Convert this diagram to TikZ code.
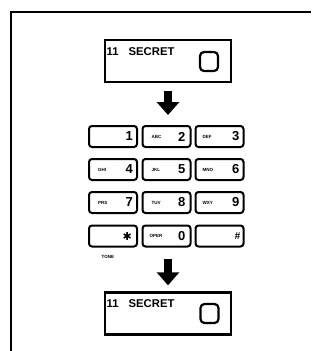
\documentclass[tikz,border=0pt]{standalone}
\usepackage{fontspec}
\setmainfont{Liberation Sans}
\usetikzlibrary{arrows.meta}
\tikzset{
  display/.style={draw, line width=2.4pt, minimum width=126pt, minimum height=42pt, inner sep=0pt},
  lamp/.style={draw, line width=2.2pt, rounded corners=4pt, minimum width=18pt, minimum height=19pt, inner sep=0pt},
  keybox/.style={draw, line width=2pt, rounded corners=3pt, minimum width=48pt, minimum height=21pt, inner sep=0pt},
  digit/.style={anchor=east, font=\bfseries\fontsize{13}{13}\selectfont, inner sep=0pt},
  tiny/.style={anchor=west, font=\bfseries\fontsize{4.5}{4.5}\selectfont, inner sep=0pt},
  title/.style={anchor=base west, font=\bfseries\fontsize{11.3}{11.3}\selectfont, inner sep=0pt},
  bigarrow/.style={line width=8pt, -{Triangle[width=22pt,length=13pt]}},
  frameline/.style={line width=1.5pt}
}
\begin{document}
\begin{tikzpicture}[x=1pt,y=-1pt]
\useasboundingbox (0,0) rectangle (325,351);
% frame
\coordinate (fa) at (11,351);
\coordinate (fb) at (11,12);
\coordinate (fc) at (311,12);
\draw[frameline] (fa) -- (fb) -- (fc);
% top display
\node[display] (topbox) at (168,61) {};
\node[lamp] (toplamp) at (209,61.5) {};
\node[title] (toptext) at (106.5,55) {11\hspace{10pt}SECRET};
% keys
\node[keybox] (k1) at (113,136.5) {};
\node[keybox] (k2) at (166.5,136.5) {};
\node[keybox] (k3) at (219.5,136.5) {};
\node[keybox] (k4) at (113,169.5) {};
\node[keybox] (k5) at (166.5,169.5) {};
\node[keybox] (k6) at (219.5,169.5) {};
\node[keybox] (k7) at (113,202.5) {};
\node[keybox] (k8) at (166.5,202.5) {};
\node[keybox] (k9) at (219.5,202.5) {};
\node[keybox] (ks) at (113,236) {};
\node[keybox] (k0) at (166.5,236) {};
\node[keybox] (kh) at (219.5,236) {};
% digits
\node[digit] (d1) at ([xshift=-5pt]k1.east) {1};
\node[digit] (d2) at ([xshift=-6pt]k2.east) {2};
\node[digit] (d3) at ([xshift=-5pt]k3.east) {3};
\node[digit] (d4) at ([xshift=-5pt]k4.east) {4};
\node[digit] (d5) at ([xshift=-6pt]k5.east) {5};
\node[digit] (d6) at ([xshift=-5pt]k6.east) {6};
\node[digit] (d7) at ([xshift=-5pt]k7.east) {7};
\node[digit] (d8) at ([xshift=-6pt]k8.east) {8};
\node[digit] (d9) at ([xshift=-5pt]k9.east) {9};
\node[digit] (ds) at ([xshift=-6pt]ks.east) {\fontspec{DejaVu Sans}\fontsize{11}{11}\selectfont ✱};
\node[digit] (d0) at ([xshift=-6pt]k0.east) {0};
\node[digit] (dh) at ([xshift=-4pt]kh.east) {\itshape\fontsize{10}{10}\selectfont \#};
% letters
\node[tiny] (l2) at ([xshift=10pt]k2.west) {ABC};
\node[tiny] (l3) at ([xshift=8pt]k3.west) {DEF};
\node[tiny] (l4) at ([xshift=10pt]k4.west) {GHI};
\node[tiny] (l5) at ([xshift=10pt]k5.west) {JKL};
\node[tiny] (l6) at ([xshift=8pt]k6.west) {MNO};
\node[tiny] (l7) at ([xshift=10pt]k7.west) {PRS};
\node[tiny] (l8) at ([xshift=10pt]k8.west) {TUV};
\node[tiny] (l9) at ([xshift=8pt]k9.west) {WXY};
\node[tiny] (l0) at ([xshift=8pt]k0.west) {OPER};
\node[tiny] (tone) at (101.5,257) {TONE};
% bottom display
\node[display] (botbox) at (168,313.5) {};
\node[lamp] (botlamp) at (209.5,313.5) {};
\node[title] (bottext) at (106.5,307) {11\hspace{10pt}SECRET};
% arrows
\draw[bigarrow, shorten <=8pt, shorten >=10pt] (topbox.south) -- (topbox.south |- k2.north);
\draw[bigarrow, shorten <=11pt, shorten >=6pt] (botbox.north |- k0.south) -- (botbox.north);
\end{tikzpicture}
\end{document}
